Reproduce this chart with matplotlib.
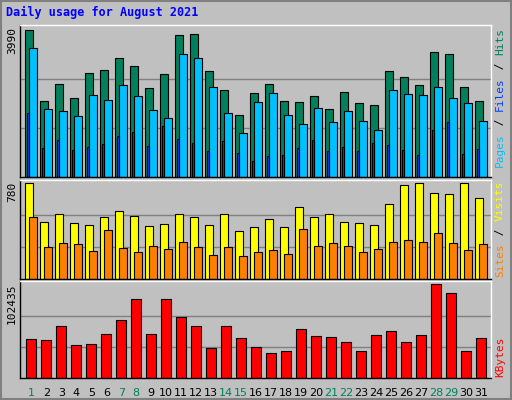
import matplotlib.pyplot as plt
from matplotlib.patches import Rectangle

days = list(range(1, 32))
weekend = [1, 7, 8, 14, 15, 21, 22, 28, 29]

hits = [3990, 2060, 2520, 2140, 2820, 2900, 3230, 3010, 2410, 2790, 3860, 3880, 2880, 2360,
        1680, 2280, 2520, 2060, 2030, 2200, 1840, 2300, 2000, 1950, 2880, 2710, 2500, 3390,
        3340, 2440, 2060]
pages = [3500, 1840, 1790, 1650, 2220, 2080, 2490, 2200, 1820, 1600, 3340, 3230, 2450, 1730,
         1190, 2030, 2280, 1680, 1430, 1870, 1490, 1790, 1520, 1280, 2360, 2250, 2220, 2450,
         2140, 2000, 1520]
files = [1740, 780, 1000, 730, 810, 890, 1110, 1220, 830, 1380, 1030, 920, 700, 970, 640,
         430, 560, 590, 780, 1000, 700, 810, 700, 920, 870, 730, 590, 1270, 1490, 620, 760]

visits = [780, 467, 534, 458, 441, 509, 551, 517, 432, 449, 526, 509, 441, 526, 390, 424,
          492, 424, 585, 509, 526, 467, 458, 441, 610, 763, 780, 702, 695, 780, 659]
sites = [509, 263, 297, 288, 229, 398, 254, 220, 271, 246, 305, 263, 195, 263, 186, 220,
         237, 203, 407, 271, 297, 271, 220, 246, 305, 322, 305, 373, 297, 237, 288]

kbytes = [42900, 41800, 56400, 36100, 37300, 48600, 63100, 86700, 48600, 86700, 66400,
          56400, 32300, 56400, 44000, 33400, 27800, 30000, 54100, 46300, 45100, 39500,
          29300, 47400, 51800, 39500, 47400, 102435, 92600, 30000, 44000]

bg = '#C0C0C0'
fig = plt.figure(figsize=(5.12, 4.0), dpi=100, facecolor=bg)
fig.patches.append(Rectangle((0.002, 0.002), 0.996, 0.996, transform=fig.transFigure,
                             fill=False, edgecolor='#808080', linewidth=1.5))

W, H = 512, 400
def axes_at(x0, y0, x1, y1):
    return fig.add_axes([x0 / W, 1 - y1 / H, (x1 - x0) / W, (y1 - y0) / H])

ax1 = axes_at(20, 25, 491, 177)
ax2 = axes_at(20, 180, 491, 279)
ax3 = axes_at(20, 281, 491, 378)

d = [x for x in days]
for ax, top in [(ax1, 3990), (ax2, 780), (ax3, 102435)]:
    ax.set_facecolor(bg)
    ax.set_xlim(0.65, 32.05)
    ax.set_ylim(0, top * 1.035)
    ax.set_xticks([])
    ax.set_yticks([])
    for y in (top / 3, top * 2 / 3):
        ax.axhline(y, color='#808080', linewidth=1, zorder=0)
    for s in ax.spines.values():
        s.set_color('black')
        s.set_linewidth(1)
    ax.spines['top'].set_color('white')
    ax.spines['right'].set_color('white')

kw = dict(align='edge', edgecolor='black', linewidth=0.8)
ax1.bar(d, hits, width=0.5, color='#00805c', **kw)
ax1.bar([x + 0.27 for x in d], pages, width=0.5, color='#00c0ff', **kw)
ax1.bar([x + 0.11 for x in d], files, width=0.17, color='#0040ff', **kw)

ax2.bar(d, visits, width=0.5, color='#ffff00', **kw)
ax2.bar([x + 0.27 for x in d], sites, width=0.5, color='#ff8000', **kw)

ax3.bar([x + 0.07 for x in d], kbytes, width=0.67, color='#ff0000', **kw)

for i in days:
    ax3.text(i + 0.4, -0.1, str(i), transform=ax3.get_xaxis_transform(), ha='center',
             va='top', fontsize=8, color='#00805c' if i in weekend else 'black')

fig.text(6 / W, 1 - 6 / H, 'Daily usage for August 2021', color='#0000ff',
         fontsize=8.5, fontweight='bold', family='DejaVu Sans Mono', ha='left', va='top')

mono = dict(family='DejaVu Sans Mono', fontsize=8, rotation=90, ha='center', va='top')
fig.text(12 / W, 1 - 27 / H, '3990', **mono)
fig.text(12 / W, 1 - 182 / H, '780', **mono)
fig.text(12 / W, 1 - 284 / H, '102435', **mono)

def side_label(parts, y_bottom):
    y = y_bottom
    for txt, col in parts:
        fig.text(500 / W, 1 - y / H, txt, color=col, family='DejaVu Sans Mono',
                 fontsize=8, rotation=90, ha='center', va='bottom')
        y -= len(txt) * 7.0

side_label([('Pages', '#00c0ff'), (' / ', 'black'), ('Files', '#0040ff'),
            (' / ', 'black'), ('Hits', '#00805c')], 167)
side_label([('Sites', '#ff8000'), (' / ', 'black'), ('Visits', '#ffff00')], 277)
side_label([('KBytes', '#ff0000')], 377)

fig.savefig('out.png', dpi=100, facecolor=bg)
